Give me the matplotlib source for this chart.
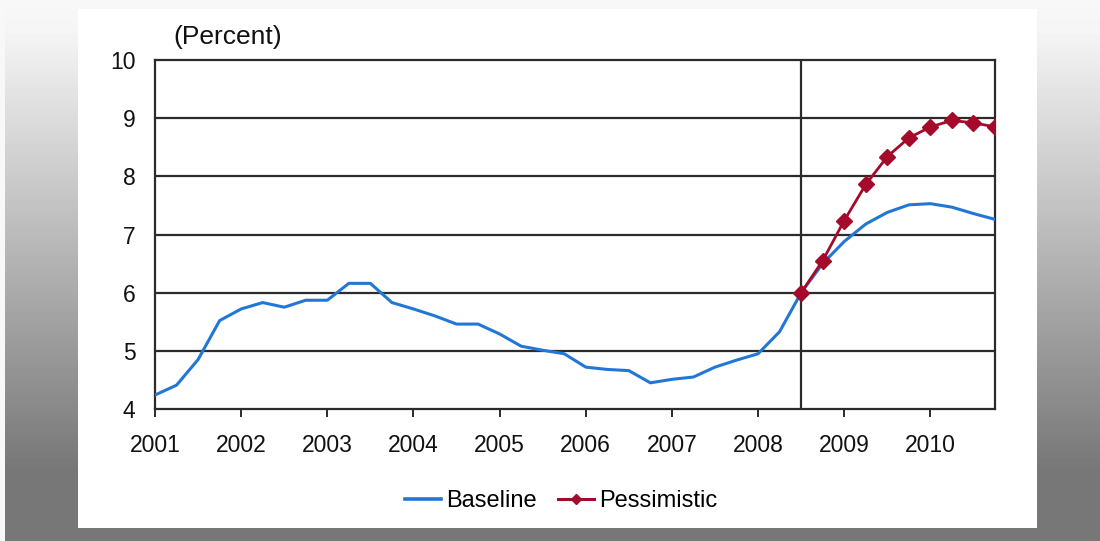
import numpy as np
import matplotlib.pyplot as plt
from matplotlib.lines import Line2D
from matplotlib.patches import Rectangle

plt.rcParams['font.family'] = ['Liberation Sans', 'DejaVu Sans']

# quarterly, 2001Q1 .. 2010Q4
quarters = 2001 + np.arange(40) * 0.25
baseline = [4.24, 4.41, 4.85, 5.52, 5.72, 5.83, 5.75, 5.87, 5.87, 6.16,
            6.16, 5.83, 5.72, 5.60, 5.46, 5.46, 5.29, 5.08, 5.01, 4.95,
            4.72, 4.68, 4.66, 4.45, 4.51, 4.55, 4.72, 4.84, 4.95, 5.33,
            6.00, 6.50, 6.88, 7.18, 7.38, 7.51, 7.53, 7.47, 7.36, 7.26]
pess_x = quarters[30:]
pessimistic = [6.00, 6.55, 7.24, 7.86, 8.34, 8.66, 8.85, 8.96, 8.92, 8.85]
years = list(range(2001, 2011))
yticks = [4, 5, 6, 7, 8, 9, 10]

W, H = 1100, 541
fig = plt.figure(figsize=(11, 5.41), dpi=100)

# grey gradient backdrop
bg = fig.add_axes([0, 0, 1, 1], zorder=-10)
rows = np.arange(H)
shade = np.interp(rows, [0, 10, 30, 470, 541], [248, 247, 245, 119, 119]) / 255.0
img = np.repeat(shade[:, None], W, axis=1)
img[:, :5] = np.maximum(img[:, :5], 0.97)
img[:10, :] = 0.972
bg.imshow(img, cmap='gray', vmin=0, vmax=1, aspect='auto',
          extent=[0, W, H, 0], interpolation='nearest')
bg.add_patch(Rectangle((78, 9), 1037 - 78, 528 - 9, facecolor='white',
                       edgecolor='none'))
bg.set_xlim(0, W)
bg.set_ylim(H, 0)
bg.axis('off')

ax = fig.add_axes([155 / W, 1 - 409 / H, (995 - 155) / W, (409 - 60) / H])
ax.set_facecolor('none')

blue = '#2277d6'
red = '#a50a2a'
ax.plot(quarters, baseline, color=blue, lw=2.2, zorder=3)
ax.plot(pess_x, pessimistic, color=red, lw=2.0, marker='D', ms=8.5,
        zorder=4)

ax.set_xlim(2001, 2010.75)
ax.set_ylim(4, 10)
ax.set_yticks(yticks)
ax.set_xticks(years)
ax.set_xticklabels([str(y) for y in years])
for y in yticks[1:-1]:
    ax.axhline(y, color='#2b2b2b', lw=1.6, zorder=2)
ax.axvline(2008.5, color='#2b2b2b', lw=1.6, zorder=2)
for s in ax.spines.values():
    s.set_color('#2b2b2b')
    s.set_linewidth(1.6)

ax.tick_params(axis='y', length=0, pad=14, labelsize=16.5, colors='#111111')
ax.tick_params(axis='x', direction='out', length=6, width=1.4,
               color='#2b2b2b', pad=12, labelsize=16.5, labelcolor='#111111')

fig.text(173 / W, 1 - 37 / H, '(Percent)', fontsize=19, color='#111111',
         ha='left', va='center')

handles = [Line2D([], [], color=blue, lw=2.6),
           Line2D([], [], color=red, lw=2.2, marker='D', ms=5.5)]
fig.legend(handles, ['Baseline', 'Pessimistic'], loc='center',
           bbox_to_anchor=(561 / W, 1 - 501 / H), ncol=2, frameon=False,
           fontsize=17, handlelength=1.55, handletextpad=0.2,
           columnspacing=0.9)

fig.savefig('out.png', dpi=100)
